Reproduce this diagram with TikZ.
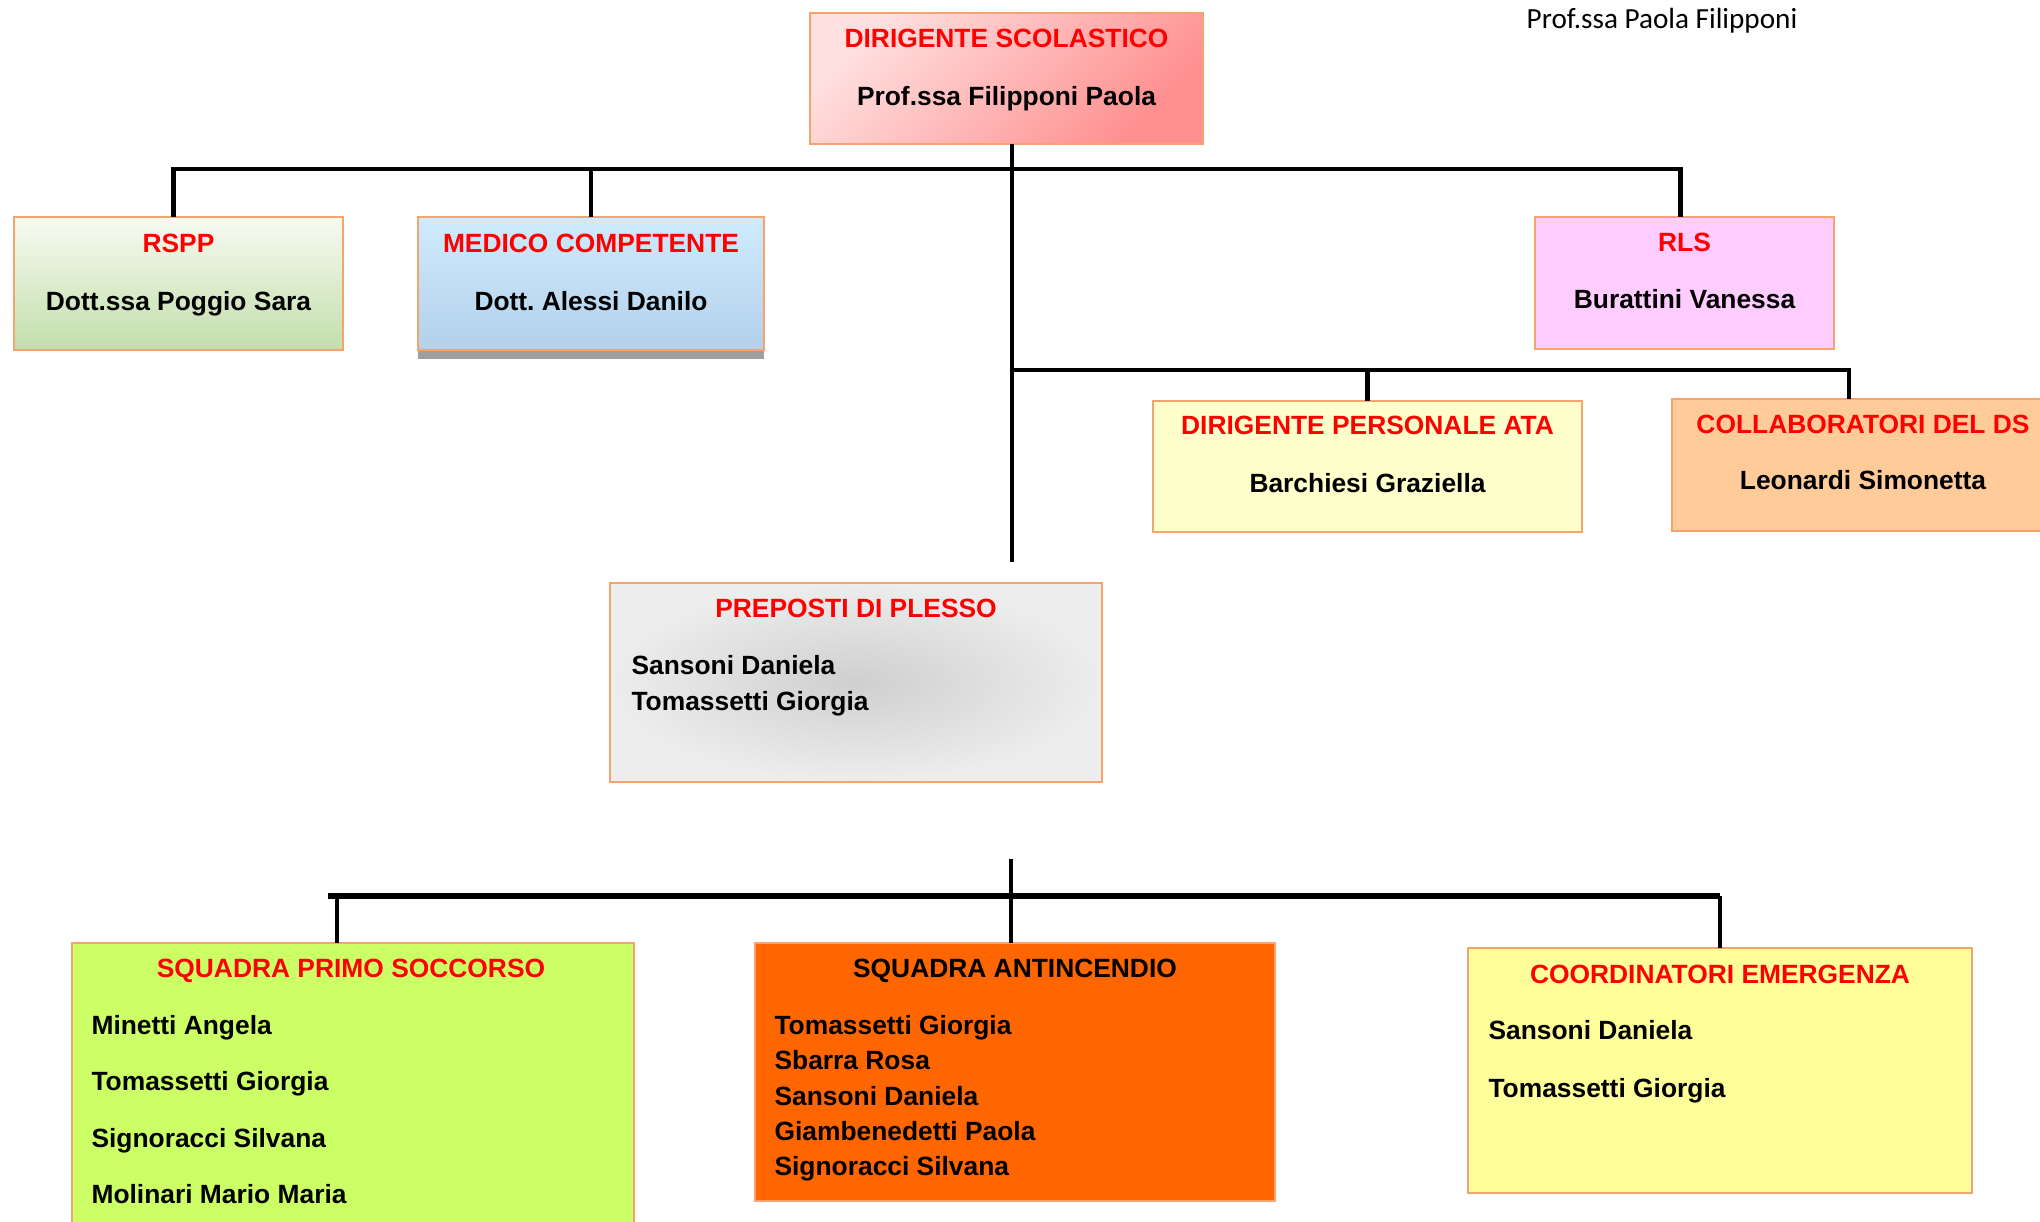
\documentclass[tikz,border=0pt]{standalone}
\usepackage{fontspec}
\setmainfont{Liberation Sans}
\newfontfamily\signfont{Carlito}
\usepackage{tikz}
\usetikzlibrary{calc}
\definecolor{border}{HTML}{F4A46C}
\definecolor{dsA}{HTML}{FFE0E0}
\definecolor{dsB}{HTML}{FF8E8E}
\definecolor{rsppA}{HTML}{F7FAF2}
\definecolor{rsppB}{HTML}{C2DEAA}
\definecolor{mcA}{HTML}{CFEBFC}
\definecolor{mcB}{HTML}{B3D1EC}
\definecolor{rls}{HTML}{FFCCFF}
\definecolor{ata}{HTML}{FFFFCC}
\definecolor{coll}{HTML}{FFCC99}
\definecolor{prepA}{HTML}{CFCFCF}
\definecolor{prepB}{HTML}{EDEDED}
\definecolor{sps}{HTML}{CCFF66}
\definecolor{sa}{HTML}{FF6600}
\definecolor{ce}{HTML}{FFFF99}

\begin{document}
\begin{tikzpicture}[
            x = 0.01cm, % one unit = one pixel
            y = -0.01cm, % y runs downwards
            bus/.style = {line width = 1.2pt}, % upper connectors
            heavy/.style = {line width = 1.6pt}, % lower bus
            drop/.style = {line width = 0.9pt} % lower drops
        ]

        \tikzstyle{box}=[
            draw = border,
            line width = 0.6pt,
            inner sep = 0pt,
            outer sep = 0pt
        ]
        \tikzstyle{title}=[
            font = \fontsize{7.5}{9}\selectfont\bfseries,
            text = red,
            text height = 5.4pt,
            text depth = 0pt,
            inner sep = 0pt
        ]
        \tikzstyle{person}=[title, text = black]

        \useasboundingbox (0,0) rectangle (2040,1221);

        % dirigente scolastico
        \node[box, minimum width = 3.93cm, minimum height = 1.31cm,
              top color = dsA, bottom color = dsB, shading angle = 45] (DS) at (1006.5,78.5) {};
        \node[title] (DSt) at ($(DS.north)+(0,25)$) {DIRIGENTE SCOLASTICO};
        \node[person] (DSn) at ($(DS.north)+(0,83)$) {Prof.ssa Filipponi Paola};

        \node[font = \signfont\fontsize{8.3}{10}\selectfont, inner sep = 0pt] (SIGN) at (1662,21) {Prof.ssa Paola Filipponi};

        % staff level
        \node[box, minimum width = 3.29cm, minimum height = 1.33cm,
              top color = rsppA, bottom color = rsppB] (RSPP) at (178.5,283.5) {};
        \node[title] (RSPPt) at ($(RSPP.north)+(0,26)$) {RSPP};
        \node[person] (RSPPn) at ($(RSPP.north)+(0,84)$) {Dott.ssa Poggio Sara};

        \fill[gray!75] (418,350) rectangle (764,359);
        \node[box, minimum width = 3.46cm, minimum height = 1.33cm,
              top color = mcA, bottom color = mcB] (MC) at (591,283.5) {};
        \node[title] (MCt) at ($(MC.north)+(0,26)$) {MEDICO COMPETENTE};
        \node[person] (MCn) at ($(MC.north)+(0,84)$) {Dott.\ Alessi Danilo};

        \node[box, minimum width = 2.99cm, minimum height = 1.32cm, fill = rls] (RLS) at (1684.5,283) {};
        \node[title] (RLSt) at ($(RLS.north)+(0,25)$) {RLS};
        \node[person] (RLSn) at ($(RLS.north)+(0,82)$) {Burattini Vanessa};

        \node[box, minimum width = 4.29cm, minimum height = 1.31cm, fill = ata] (ATA) at (1367.5,466.5) {};
        \node[title] (ATAt) at ($(ATA.north)+(0,24)$) {DIRIGENTE PERSONALE ATA};
        \node[person] (ATAn) at ($(ATA.north)+(0,82)$) {Barchiesi Graziella};

        \node[box, minimum width = 3.82cm, minimum height = 1.32cm, fill = coll] (COLL) at (1863,465) {};
        \node[title] (COLLt) at ($(COLL.north)+(0,25)$) {COLLABORATORI DEL DS};
        \node[person] (COLLn) at ($(COLL.north)+(0,81)$) {Leonardi Simonetta};

        % preposti
        \node[box, minimum width = 4.92cm, minimum height = 1.99cm,
              inner color = prepA, outer color = prepB] (PREP) at (856,682.5) {};
        \node[title] (PREPt) at ($(PREP.north)+(0,25)$) {PREPOSTI DI PLESSO};
        \foreach \who [count=\i] in {Sansoni Daniela, Tomassetti Giorgia}
            \node[person, anchor = west] at ($(PREP.north west)+(21,{82+36*(\i-1)})$) {\who};

        % squadre
        \node[box, minimum width = 5.62cm, minimum height = 3.0cm, fill = sps] (SPS) at (353,1093) {};
        \node[title] (SPSt) at ($(SPS.north)+(-2,25)$) {SQUADRA PRIMO SOCCORSO};
        \foreach \who [count=\i] in {Minetti Angela, Tomassetti Giorgia, Signoracci Silvana, Molinari Mario Maria}
            \node[person, anchor = west] at ($(SPS.north west)+(19,{82+56.5*(\i-1)})$) {\who};

        \node[box, minimum width = 5.2cm, minimum height = 2.58cm, fill = sa] (SA) at (1015,1072) {};
        \node[person] (SAt) at ($(SA.north)+(0,25)$) {SQUADRA ANTINCENDIO};
        \foreach \who [count=\i] in {Tomassetti Giorgia, Sbarra Rosa, Sansoni Daniela, Giambenedetti Paola, Signoracci Silvana}
            \node[person, anchor = west] at ($(SA.north west)+(19,{82+35.3*(\i-1)})$) {\who};

        \node[box, minimum width = 5.04cm, minimum height = 2.45cm, fill = ce] (CE) at (1720,1070.5) {};
        \node[title] (CEt) at ($(CE.north)+(0,26)$) {COORDINATORI EMERGENZA};
        \foreach \who [count=\i] in {Sansoni Daniela, Tomassetti Giorgia}
            \node[person, anchor = west] at ($(CE.north west)+(20,{82+58*(\i-1)})$) {\who};

        % upper connectors
        \coordinate (J1) at (1012,169);
        \coordinate (J2) at (1012,370);
        \coordinate (T1) at (1012,562);
        \draw[bus] (J1 |- DS.south) -- (T1);
        \draw[bus] ([xshift=-0.05cm]RSPP.north) |- (J1) -| ([xshift=-0.04cm]RLS.north);
        \draw[bus] (MC.north) -- (MC.north |- J1);
        \draw[bus] (J2) -| ([xshift=-0.14cm]COLL.north);
        \draw[bus] (ATA.north) -- (ATA.north |- J2);

        % lower connectors
        \coordinate (T3) at (1011,859);
        \coordinate (J3) at (328,896);
        \draw[drop] (T3) -- (T3 |- SA.north);
        \draw[heavy] (J3) -- (J3 -| CE.north);
        \draw[drop] ([xshift=-0.16cm]SPS.north) -- ([xshift=-0.16cm]SPS.north |- J3);
        \draw[drop] (CE.north) -- (CE.north |- J3);

\end{tikzpicture}
\end{document}
